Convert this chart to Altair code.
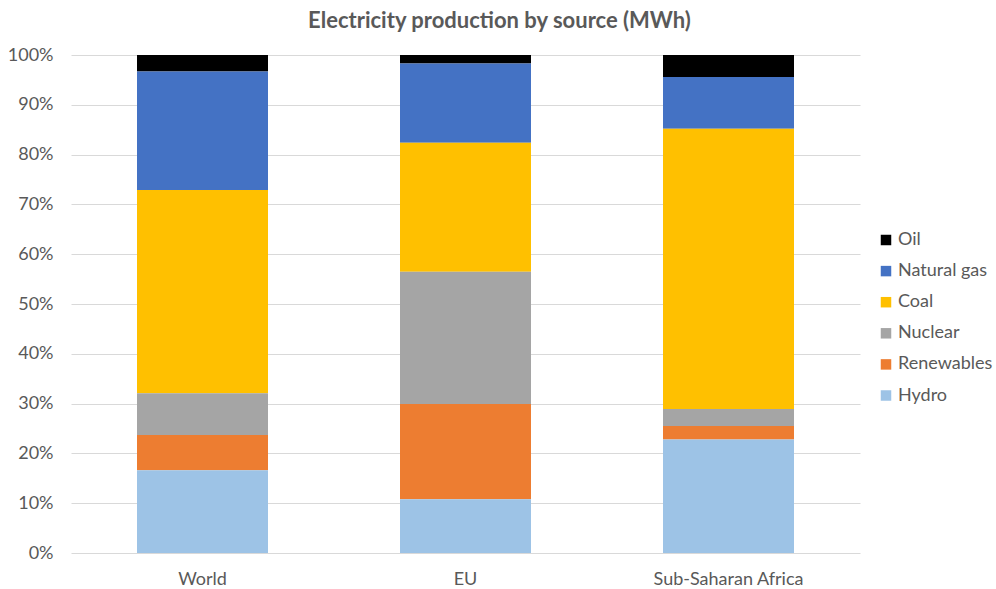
import altair as alt
import pandas as pd

regions = ["World", "EU", "Sub-Saharan Africa"]
sources = ["Oil", "Natural gas", "Coal", "Nuclear", "Renewables", "Hydro"]
colors = ["#000000", "#4472C4", "#FFC000", "#A5A5A5", "#ED7D31", "#9DC3E6"]

# shares (%) per region, in the order of `sources`
world = [3.3, 23.8, 40.8, 8.4, 7.1, 16.6]
eu = [1.7, 15.9, 25.9, 26.6, 19.1, 10.8]
ssa = [4.4, 10.4, 56.3, 3.4, 2.7, 22.8]

rows = []
for region, vals in zip(regions, [world, eu, ssa]):
    for i, (s, v) in enumerate(zip(sources, vals)):
        rows.append({"region": region, "source": s, "value": v, "order": len(sources) - i})
df = pd.DataFrame(rows)

FONT = "Lato"
GREY = "#595959"

chart = alt.Chart(df).mark_bar(size=131).encode(
    x=alt.X("region:N", sort=regions, title=None,
            scale=alt.Scale(paddingInner=0.5, paddingOuter=0.25),
            axis=alt.Axis(labelAngle=0, labelFontSize=18, labelColor=GREY, labelFont=FONT,
                          ticks=False, domain=False, labelPadding=17)),
    y=alt.Y("value:Q", stack="normalize", title=None,
            scale=alt.Scale(domain=[0, 1]),
            axis=alt.Axis(format="%", values=[i / 10 for i in range(11)], labelFontSize=18,
                          labelColor=GREY, labelFont=FONT, ticks=False, domain=False,
                          gridColor="#D9D9D9", gridWidth=1, labelPadding=18)),
    color=alt.Color("source:N", sort=sources,
                    scale=alt.Scale(domain=sources, range=colors),
                    legend=alt.Legend(title=None, orient="none", legendX=806, legendY=176,
                                      symbolType="square", symbolSize=110, symbolStrokeWidth=0,
                                      labelFontSize=18, labelColor=GREY, labelFont=FONT,
                                      rowPadding=13.1, labelOffset=3)),
    order=alt.Order("order:Q", sort="ascending"),
).properties(
    width=789,
    height=498,
    title=alt.TitleParams("Electricity production by source (MWh)", anchor="middle", dx=34,
                          fontSize=22, fontWeight="bold", color=GREY, font=FONT, offset=13),
    autosize=alt.AutoSizeParams(type="none"),
    padding={"left": 71, "top": 55, "right": 136, "bottom": 36},
).configure_view(stroke=None)

chart.save("out.html", embed_options={"renderer": "svg", "actions": False})
